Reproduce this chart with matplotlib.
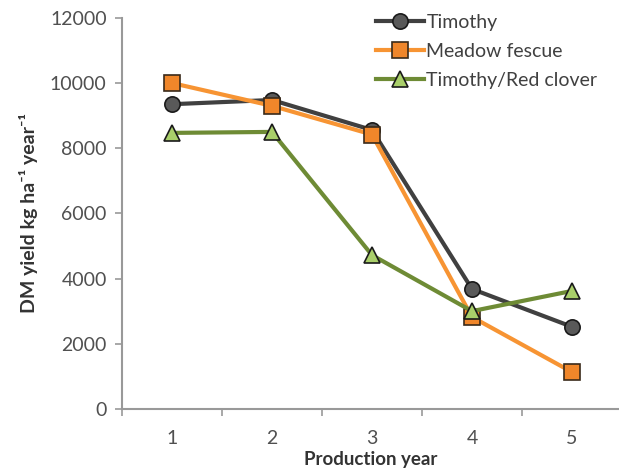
import matplotlib.pyplot as plt

plt.rcParams['font.family'] = ['Lato', 'DejaVu Sans']

years = [1, 2, 3, 4, 5]
timothy = [9350, 9480, 8560, 3680, 2520]
meadow_fescue = [10000, 9300, 8420, 2820, 1130]
red_clover = [8470, 8500, 4720, 3000, 3620]

fig = plt.figure(figsize=(6.19, 4.70), dpi=100)
ax = fig.add_axes([0.197, 0.13, 0.803, 0.832])

ax.plot(years, timothy, color='#404040', lw=3, marker='o', ms=11,
        mfc='#595959', mec='#1a1a1a', mew=1.2, label='Timothy')
ax.plot(years, meadow_fescue, color='#f79433', lw=3, marker='s', ms=11,
        mfc='#f0862a', mec='#3a2a1a', mew=1.2, label='Meadow fescue')
ax.plot(years, red_clover, color='#6e8b35', lw=3, marker='^', ms=11,
        mfc='#a9cf6a', mec='#1a1a1a', mew=1.2, label='Timothy/Red clover')

ax.set_xlim(0.5, 5.47)
ax.set_ylim(0, 12000)
ax.set_yticks(range(0, 12001, 2000))
ax.set_xticks(years)
ax.set_xticks([0.5, 1.5, 2.5, 3.5, 4.5], minor=True)
ax.tick_params(axis='x', which='major', length=0, pad=15)
ax.tick_params(axis='x', which='minor', length=5, color='#999999', width=1.2, direction='out')
ax.tick_params(axis='y', length=5, color='#999999', width=1.2, pad=6)
ax.tick_params(labelsize=14, labelcolor='#505050')

for side in ['top', 'right']:
    ax.spines[side].set_visible(False)
for side in ['left', 'bottom']:
    ax.spines[side].set_color('#999999')
    ax.spines[side].set_linewidth(1.5)

ax.set_xlabel('Production year', fontsize=13.5, fontweight='bold', color='#333333', labelpad=0)
ax.xaxis.set_label_coords(0.5, -0.108)
ax.set_ylabel('DM yield kg ha⁻¹ year⁻¹', fontsize=14,
              fontweight='bold', color='#333333')
ax.yaxis.set_label_coords(-0.168, 0.5)

fig.legend(loc='upper left', bbox_to_anchor=(0.607, 0.97), frameon=False, fontsize=14,
           handlelength=2.5, handletextpad=0.1, labelspacing=0.62, borderpad=0,
           borderaxespad=0, labelcolor='#404040')

fig.savefig('out.png', dpi=100)
